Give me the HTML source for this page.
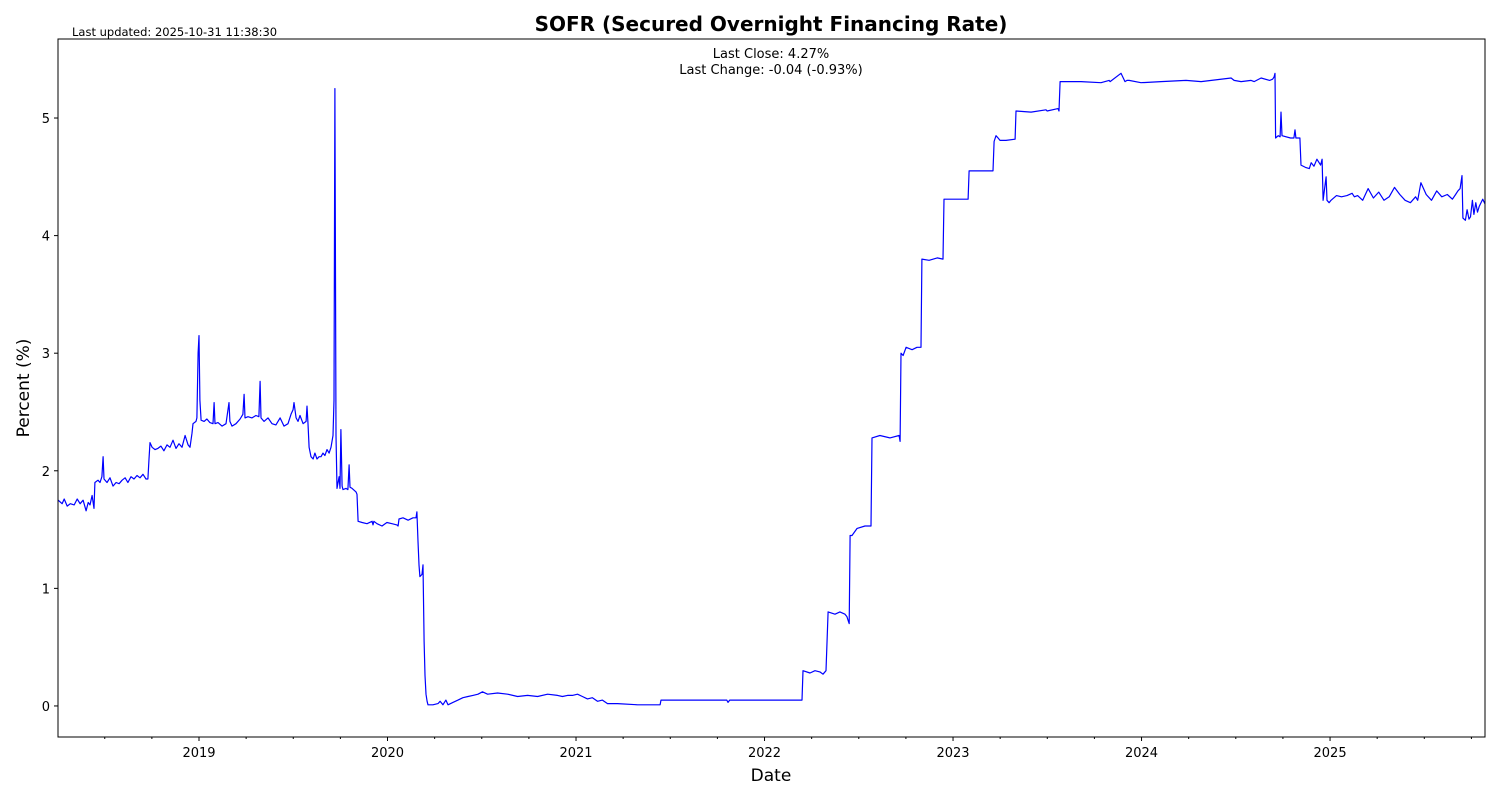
<!DOCTYPE html>
<html><head><meta charset="utf-8"><style>
body{margin:0;background:#fff;}
svg{display:block;font-family:"DejaVu Sans","Liberation Sans",sans-serif;}
</style></head><body>
<svg id="chart" width="1500" height="800">
<rect width="1500" height="800" fill="#fff"/>
<text x="771" y="31" text-anchor="middle" font-size="20" font-weight="bold">SOFR (Secured Overnight Financing Rate)</text>
<text x="72" y="36" font-size="11.5">Last updated: 2025-10-31 11:38:30</text>
<text x="771" y="58" text-anchor="middle" font-size="13">Last Close: 4.27%</text>
<text x="771" y="74" text-anchor="middle" font-size="13">Last Change: -0.04 (-0.93%)</text>
<text x="771" y="781" text-anchor="middle" font-size="17">Date</text>
<text transform="translate(29,388) rotate(-90)" text-anchor="middle" font-size="17">Percent (%)</text>
<g id="ticks"></g>
<polyline id="line" fill="none" stroke="#0000ff" stroke-width="1.2" stroke-linejoin="round"/>
<rect x="58" y="39" width="1427" height="698" fill="none" stroke="#000" stroke-width="1"/>
</svg>
<script>
// readings: [decimal year, rate %]
const readings = [
[2018.253,1.75],[2018.274,1.72],[2018.285,1.76],[2018.301,1.70],[2018.317,1.72],[2018.338,1.71],[2018.354,1.76],[2018.369,1.72],[2018.385,1.75],[2018.401,1.66],[2018.412,1.73],[2018.422,1.71],[2018.433,1.79],[2018.443,1.68],[2018.448,1.90],
[2018.464,1.92],[2018.475,1.90],[2018.485,1.95],[2018.491,2.12],[2018.496,1.93],[2018.512,1.90],[2018.528,1.94],[2018.544,1.87],[2018.560,1.90],[2018.576,1.89],[2018.592,1.92],[2018.608,1.94],[2018.623,1.90],[2018.639,1.95],[2018.655,1.93],[2018.671,1.96],[2018.687,1.94],[2018.703,1.97],[2018.719,1.93],[2018.729,1.93],
[2018.735,2.10],[2018.740,2.24],[2018.751,2.20],[2018.767,2.18],[2018.782,2.19],[2018.798,2.21],[2018.814,2.17],[2018.830,2.22],[2018.846,2.20],[2018.862,2.26],[2018.878,2.19],[2018.894,2.23],[2018.910,2.20],[2018.926,2.30],[2018.942,2.22],[2018.952,2.20],[2018.963,2.32],[2018.968,2.40],[2018.984,2.42],[2018.989,2.45],
[2018.995,3.00],[2019.000,3.15],[2019.005,2.60],[2019.011,2.43],[2019.027,2.42],[2019.042,2.44],[2019.058,2.41],[2019.074,2.40],[2019.080,2.58],[2019.085,2.40],[2019.101,2.41],[2019.122,2.38],[2019.143,2.40],[2019.159,2.58],[2019.164,2.42],[2019.175,2.38],[2019.196,2.40],[2019.218,2.44],[2019.233,2.48],[2019.239,2.65],[2019.244,2.45],
[2019.260,2.46],[2019.281,2.45],[2019.302,2.47],[2019.318,2.46],[2019.324,2.76],[2019.329,2.45],[2019.345,2.42],[2019.366,2.45],[2019.387,2.40],[2019.408,2.39],[2019.430,2.45],[2019.451,2.38],[2019.472,2.40],[2019.488,2.48],[2019.499,2.52],[2019.504,2.58],[2019.515,2.45],[2019.525,2.42],[2019.536,2.47],[2019.552,2.40],[2019.568,2.42],
[2019.573,2.55],[2019.578,2.40],[2019.584,2.20],[2019.594,2.12],[2019.605,2.10],[2019.615,2.15],[2019.626,2.10],[2019.637,2.12],[2019.647,2.12],[2019.658,2.15],[2019.668,2.13],[2019.679,2.18],[2019.690,2.15],[2019.700,2.20],[2019.711,2.30],[2019.716,2.60],[2019.721,5.25],[2019.727,2.30],[2019.732,1.85],
[2019.743,1.95],[2019.748,1.85],[2019.753,2.35],[2019.759,1.87],[2019.764,1.84],[2019.780,1.85],[2019.790,1.84],[2019.796,2.05],[2019.801,1.86],[2019.812,1.85],[2019.833,1.82],[2019.838,1.80],[2019.844,1.57],[2019.865,1.56],[2019.891,1.55],[2019.918,1.57],[2019.923,1.54],[2019.928,1.57],
[2019.944,1.55],[2019.971,1.53],[2019.997,1.56],[2020.024,1.55],[2020.050,1.54],[2020.056,1.53],[2020.061,1.59],[2020.082,1.60],[2020.109,1.58],[2020.135,1.60],[2020.151,1.60],[2020.156,1.65],[2020.162,1.40],[2020.167,1.20],[2020.172,1.10],[2020.183,1.12],[2020.188,1.20],
[2020.194,0.55],[2020.199,0.26],[2020.204,0.10],[2020.210,0.04],[2020.215,0.01],[2020.241,0.01],[2020.268,0.02],[2020.279,0.04],[2020.294,0.01],[2020.310,0.05],[2020.321,0.01],[2020.347,0.03],[2020.374,0.05],[2020.400,0.07],[2020.427,0.08],[2020.453,0.09],[2020.480,0.10],
[2020.504,0.12],[2020.531,0.10],[2020.584,0.11],[2020.637,0.10],[2020.690,0.08],[2020.743,0.09],[2020.796,0.08],[2020.849,0.10],[2020.902,0.09],[2020.928,0.08],[2020.955,0.09],[2020.981,0.09],[2021.008,0.10],[2021.034,0.08],[2021.061,0.06],[2021.087,0.07],[2021.114,0.04],
[2021.140,0.05],[2021.167,0.02],[2021.220,0.02],[2021.326,0.01],[2021.446,0.01],[2021.451,0.05],[2021.690,0.05],[2021.800,0.05],[2021.806,0.03],[2021.815,0.05],[2022.008,0.05],[2022.164,0.05],[2022.199,0.05],[2022.204,0.30],[2022.241,0.28],[2022.268,0.30],[2022.294,0.29],[2022.310,0.27],[2022.326,0.30],
[2022.337,0.80],[2022.374,0.78],[2022.400,0.80],[2022.427,0.78],[2022.437,0.76],[2022.445,0.72],[2022.449,0.70],[2022.454,1.45],[2022.464,1.45],[2022.491,1.51],[2022.533,1.53],[2022.565,1.53],[2022.570,2.28],[2022.612,2.30],[2022.665,2.28],[2022.714,2.30],[2022.719,2.25],
[2022.724,3.00],[2022.735,2.98],[2022.751,3.05],[2022.783,3.03],[2022.809,3.05],[2022.830,3.05],[2022.835,3.80],[2022.873,3.79],[2022.916,3.81],[2022.947,3.80],[2022.952,4.31],[2023.016,4.31],[2023.080,4.31],[2023.085,4.55],[2023.149,4.55],[2023.212,4.55],[2023.218,4.80],
[2023.228,4.85],[2023.239,4.83],[2023.249,4.81],[2023.281,4.81],[2023.329,4.82],[2023.334,5.06],[2023.414,5.05],[2023.493,5.07],[2023.499,5.06],[2023.557,5.08],[2023.562,5.06],[2023.568,5.31],[2023.679,5.31],[2023.785,5.30],[2023.828,5.32],[2023.833,5.31],[2023.891,5.38],
[2023.912,5.31],[2023.923,5.32],[2023.934,5.32],[2023.997,5.30],[2024.103,5.31],[2024.236,5.32],[2024.316,5.31],[2024.475,5.34],[2024.491,5.32],[2024.528,5.31],[2024.581,5.32],[2024.597,5.31],[2024.634,5.34],[2024.680,5.32],[2024.695,5.33],[2024.703,5.35],[2024.708,5.38],
[2024.711,4.83],[2024.725,4.85],[2024.735,4.84],[2024.740,5.05],[2024.745,4.85],[2024.790,4.83],[2024.808,4.83],[2024.814,4.90],[2024.819,4.83],[2024.840,4.83],[2024.846,4.60],[2024.870,4.58],[2024.890,4.57],[2024.900,4.62],[2024.915,4.59],[2024.930,4.65],[2024.950,4.60],[2024.958,4.65],
[2024.963,4.30],[2024.979,4.50],[2024.984,4.30],[2024.995,4.28],[2025.005,4.30],[2025.034,4.34],[2025.061,4.33],[2025.090,4.34],[2025.117,4.36],[2025.129,4.33],[2025.146,4.34],[2025.173,4.30],[2025.202,4.40],[2025.230,4.32],[2025.258,4.37],[2025.286,4.30],[2025.314,4.33],
[2025.342,4.41],[2025.370,4.35],[2025.398,4.30],[2025.426,4.28],[2025.454,4.33],[2025.465,4.30],[2025.482,4.45],[2025.510,4.35],[2025.538,4.30],[2025.566,4.38],[2025.593,4.33],[2025.622,4.35],[2025.649,4.31],[2025.666,4.35],[2025.678,4.38],[2025.690,4.40],[2025.700,4.51],
[2025.705,4.15],[2025.718,4.13],[2025.727,4.22],[2025.737,4.14],[2025.745,4.16],[2025.755,4.30],[2025.763,4.18],[2025.773,4.28],[2025.782,4.20],[2025.792,4.25],[2025.810,4.31],[2025.822,4.27]
];
const years = readings.map(r => r[0]);
const values = readings.map(r => r[1]);
const yTicks = [0,1,2,3,4,5];
const xTickYears = [2019,2020,2021,2022,2023,2024,2025];
const x0=58,x1=1485,yTop=39,yBot=737;
const xMin=2018.252, xMax=2025.822, yMin=-0.264, yMax=5.672;
const X = v => x0 + (v - xMin) / (xMax - xMin) * (x1 - x0);
const Y = v => yBot - (v - yMin) / (yMax - yMin) * (yBot - yTop);
const NS="http://www.w3.org/2000/svg";
document.getElementById('line').setAttribute('points', years.map((t,i)=>X(t).toFixed(1)+','+Y(values[i]).toFixed(1)).join(' '));
const g=document.getElementById('ticks');
function mk(tag,attrs,txt){const e=document.createElementNS(NS,tag);for(const k in attrs)e.setAttribute(k,attrs[k]);if(txt!==undefined)e.textContent=txt;g.appendChild(e);return e;}
yTicks.forEach(v=>{
  const y=Y(v);
  const t=mk('line',{x1:x0-4,x2:x0,y1:y,y2:y,stroke:'#000'});
  
  
  const l=mk('text',{x:x0-8,y:y+5,'text-anchor':'end','font-size':'13'},String(v));
  
  
});
for(let yr=2018;yr<=2025;yr++){for(let q=0;q<4;q++){
  const t=yr+q/4; if(t<xMin||t>xMax)continue;
  const x=X(t); const major=q===0;
  const tk=mk('line',{x1:x,x2:x,y1:yBot,y2:yBot+(major?4:2),stroke:'#000'});
  
  
}}
xTickYears.forEach(yr=>{
  const l=mk('text',{x:X(yr),y:yBot+20,'text-anchor':'middle','font-size':'13'},String(yr));
  
  
});
</script>
</body></html>
